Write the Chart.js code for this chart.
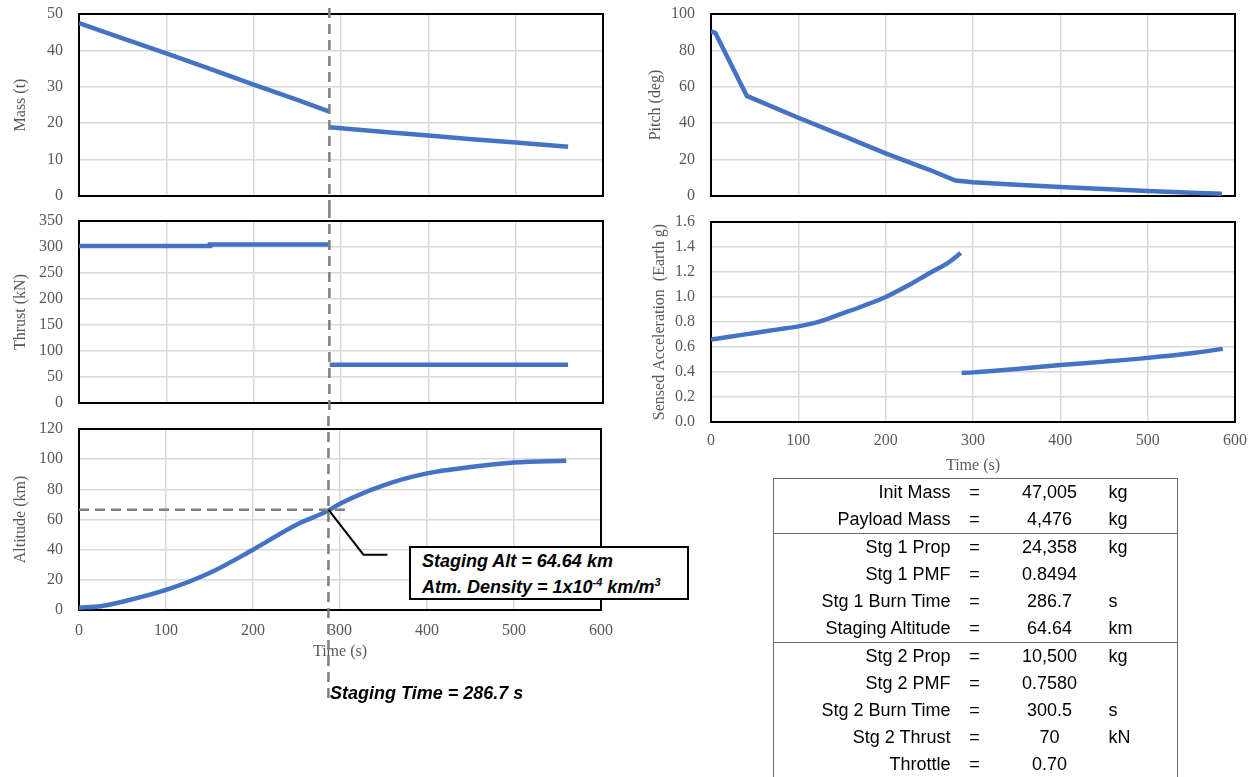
<!DOCTYPE html>
<html><head><meta charset="utf-8">
<script src="https://cdn.jsdelivr.net/npm/chart.js@4"></script>
<style>
html,body{margin:0;padding:0;background:#fff;}
body{width:1255px;height:777px;position:relative;overflow:hidden;}
canvas{position:absolute;}
.note{position:absolute;font-family:"Liberation Sans",Arial,sans-serif;font-weight:bold;font-style:italic;font-size:18px;color:#000;white-space:nowrap;line-height:26px;}
#altBox{left:409px;top:546px;width:265px;height:50px;border:2px solid #000;background:#fff;padding:0 0 0 11px;}
#stageTime{left:330px;top:680px;}
.sup{font-size:11px;position:relative;top:-7px;}
#tbl{position:absolute;left:773px;top:478px;width:404px;border-collapse:collapse;table-layout:fixed;border:1.5px solid #6b6b6b;font-family:"Liberation Sans",Arial,sans-serif;font-size:18px;color:#000;}
#tbl td{height:27px;line-height:27px;padding:0;white-space:nowrap;vertical-align:middle;}
#tbl td.l{text-align:right;}
#tbl td.e{text-align:center;}
#tbl td.v{text-align:center;}
#tbl td.u{text-align:left;padding-left:8px;}
#tbl tr.sep td{border-top:1.5px solid #6b6b6b;}
</style></head>
<body>
<canvas id="cMass" width="625" height="208" style="left:0;top:0"></canvas>
<canvas id="cThrust" width="625" height="208" style="left:0;top:208px"></canvas>
<canvas id="cAlt" width="625" height="361" style="left:0;top:416px"></canvas>
<canvas id="cPitch" width="625" height="210" style="left:630px;top:0"></canvas>
<canvas id="cAcc" width="625" height="270" style="left:630px;top:210px"></canvas>
<div class="note" id="altBox">Staging Alt = 64.64 km<br>Atm. Density = 1x10<span class="sup">-4</span> km/m<span class="sup">3</span></div>
<div class="note" id="stageTime">Staging Time = 286.7 s</div>
<table id="tbl">
<colgroup><col style="width:177px"><col style="width:48px"><col style="width:102px"><col style="width:77px"></colgroup>
<tbody id="tbody"></tbody>
</table>
<script>
// ---- data ----
const stagingTime = 286.7;
const stagingMarkAlt = 66.5;

const massT1 = [0, 50, 100, 150, 200, 250, 286.7];
const mass1  = [47.5, 43.3, 39.2, 34.9, 30.6, 26.4, 23.2];
const massT2 = [287, 350, 400, 450, 500, 560];
const mass2  = [18.9, 17.6, 16.6, 15.6, 14.7, 13.5];

const thrustT1 = [0, 150, 150, 286.7];
const thrust1  = [302, 302, 305, 305];
const thrustT2 = [287, 560];
const thrust2  = [73.5, 73.5];

const altT = [0, 25, 50, 100, 150, 200, 250, 286.7, 300, 350, 400, 450, 500, 560];
const alt  = [1.5, 2.5, 5.5, 13.3, 24.5, 40, 56.5, 65.9, 70.5, 82.7, 90.6, 94.8, 97.8, 99.0];

const pitchT = [0, 5, 41, 100, 150, 200, 250, 280, 300, 350, 400, 450, 500, 550, 585];
const pitch  = [90.5, 89.5, 55, 43, 33.3, 23.4, 14.4, 8.5, 7.5, 6.2, 5, 3.8, 2.7, 1.8, 1.3];

const accT1 = [0, 25, 50, 75, 100, 125, 150, 175, 200, 225, 250, 270, 286];
const acc1  = [0.659, 0.686, 0.712, 0.739, 0.765, 0.805, 0.867, 0.93, 1.0, 1.09, 1.19, 1.267, 1.352];
const accT2 = [287, 300, 350, 400, 450, 500, 550, 586];
const acc2  = [0.392, 0.397, 0.424, 0.456, 0.483, 0.513, 0.550, 0.585];

const xTicks = [0, 100, 200, 300, 400, 500, 600];

const tableLabels = ["Init Mass","Payload Mass","Stg 1 Prop","Stg 1 PMF","Stg 1 Burn Time","Staging Altitude","Stg 2 Prop","Stg 2 PMF","Stg 2 Burn Time","Stg 2 Thrust","Throttle"];
const tableValues = ["47,005","4,476","24,358","0.8494","286.7","64.64","10,500","0.7580","300.5","70","0.70"];
const tableUnits  = ["kg","kg","kg","","s","km","kg","","s","kN",""];
const tableSeparatorsBefore = [2, 6];

// ---- table ----
const tb = document.getElementById('tbody');
tableLabels.forEach((lab, i) => {
  const tr = document.createElement('tr');
  if (tableSeparatorsBefore.includes(i)) tr.className = 'sep';
  tr.innerHTML = '<td class="l">' + lab + '</td><td class="e">=</td><td class="v">' + tableValues[i] + '</td><td class="u">' + tableUnits[i] + '</td>';
  tb.appendChild(tr);
});

// ---- charts ----
const SERIF = '"Liberation Serif","Times New Roman",serif';
const GREY = '#595959';
const BLUE = '#4472C4';
const pts = (xs, ys) => xs.map((x, i) => ({x: x, y: ys[i]}));
const ds = (xs, ys, smooth) => ({data: pts(xs, ys), borderColor: BLUE, borderWidth: 4.5, pointRadius: 0, fill: false,
  tension: 0, cubicInterpolationMode: smooth ? 'monotone' : 'default'});

const framePlugin = {
  id: 'frame',
  beforeDatasetsDraw(chart) {
    const a = chart.chartArea, c = chart.ctx;
    c.save(); c.strokeStyle = '#000'; c.lineWidth = 2;
    c.strokeRect(a.left, a.top, a.right - a.left, a.bottom - a.top);
    c.restore();
  }
};
function stagingPlugin(top, bottom) {
  return {
    id: 'staging',
    afterDraw(chart) {
      const c = chart.ctx, x = chart.scales.x.getPixelForValue(stagingTime);
      c.save(); c.strokeStyle = '#7f7f7f'; c.lineWidth = 2.5; c.setLineDash([10, 6]);
      c.beginPath(); c.moveTo(x, top); c.lineTo(x, bottom === null ? chart.height : bottom); c.stroke();
      c.restore();
    }
  };
}
const altNotePlugin = {
  id: 'altNote',
  afterDatasetsDraw(chart) {
    const c = chart.ctx, xs = chart.scales.x, ys = chart.scales.y;
    const px = xs.getPixelForValue(stagingTime), py = ys.getPixelForValue(stagingMarkAlt);
    c.save();
    c.strokeStyle = '#7f7f7f'; c.lineWidth = 2.5; c.setLineDash([10, 6]);
    c.beginPath(); c.moveTo(chart.chartArea.left, py); c.lineTo(xs.getPixelForValue(309), py); c.stroke();
    c.setLineDash([]); c.strokeStyle = '#000'; c.lineWidth = 2;
    c.beginPath(); c.moveTo(px, py); c.lineTo(px + 35, py + 45); c.lineTo(px + 59, py + 45); c.stroke();
    c.restore();
  }
};

function makeChart(id, datasets, o) {
  return new Chart(document.getElementById(id), {
    type: 'line',
    data: {datasets: datasets},
    plugins: [framePlugin].concat(o.plugins || []),
    options: {
      responsive: false, animation: false, events: [],
      layout: {padding: {top: o.padTop, bottom: o.padBottom, left: 0, right: o.padRight}},
      plugins: {legend: {display: false}, tooltip: {enabled: false}},
      scales: {
        x: {
          type: 'linear', min: 0, max: 600,
          afterBuildTicks: s => { s.ticks = xTicks.map(v => ({value: v})); },
          ticks: {display: o.showX, padding: o.xTickPad || 0, font: {family: SERIF, size: 16}, color: GREY, maxRotation: 0, autoSkip: false},
          grid: {color: '#d9d9d9', lineWidth: 1.5, drawTicks: false},
          border: {display: false},
          title: {display: o.showX, text: 'Time (s)', font: {family: SERIF, size: 16}, color: GREY, padding: {top: 0, bottom: 0}},
          afterFit: s => { s.height = o.xHeight; s.paddingLeft = 0; s.paddingRight = 0; }
        },
        y: {
          type: 'linear', min: o.yMin, max: o.yMax,
          ticks: {stepSize: o.yStep, padding: 16, font: {family: SERIF, size: 16}, color: GREY, callback: o.yFmt || (v => v)},
          grid: {color: '#d9d9d9', lineWidth: 1.5, drawTicks: false},
          border: {display: false},
          title: {display: true, text: o.yTitle, font: {family: SERIF, size: 16}, color: GREY, padding: {top: o.yTitlePad, bottom: 0}},
          afterFit: s => { s.width = o.yWidth; s.paddingTop = 0; s.paddingBottom = 0; }
        }
      }
    }
  });
}

makeChart('cMass', [ds(massT1, mass1), ds(massT2, mass2)], {
  padTop: 14, padBottom: 0, padRight: 22, xHeight: 12, showX: false,
  yMin: 0, yMax: 50, yStep: 10, yTitle: 'Mass (t)', yTitlePad: 11, yWidth: 79,
  plugins: [stagingPlugin(8, null)]
});
makeChart('cThrust', [ds(thrustT1, thrust1), ds(thrustT2, thrust2)], {
  padTop: 13, padBottom: 0, padRight: 22, xHeight: 13, showX: false,
  yMin: 0, yMax: 350, yStep: 50, yTitle: 'Thrust (kN)', yTitlePad: 11, yWidth: 79,
  plugins: [stagingPlugin(0, null)]
});
makeChart('cAlt', [ds(altT, alt, true)], {
  padTop: 13, padBottom: 116, padRight: 24, xHeight: 51, showX: true, xTickPad: 11,
  yMin: 0, yMax: 120, yStep: 20, yTitle: 'Altitude (km)', yTitlePad: 11, yWidth: 79,
  plugins: [altNotePlugin, stagingPlugin(0, 286)]
});
makeChart('cPitch', [ds(pitchT, pitch, false)], {
  padTop: 14, padBottom: 0, padRight: 20, xHeight: 14, showX: false,
  yMin: 0, yMax: 100, yStep: 20, yTitle: 'Pitch (deg)', yTitlePad: 16, yWidth: 81
});
makeChart('cAcc', [ds(accT1, acc1, true), ds(accT2, acc2, true)], {
  padTop: 12, padBottom: 5, padRight: 20, xHeight: 53, showX: true, xTickPad: 9,
  yMin: 0, yMax: 1.6, yStep: 0.2, yTitle: 'Sensed Acceleration  (Earth g)', yTitlePad: 20, yWidth: 81,
  yFmt: v => Number(v).toFixed(1)
});
</script>
</body></html>
